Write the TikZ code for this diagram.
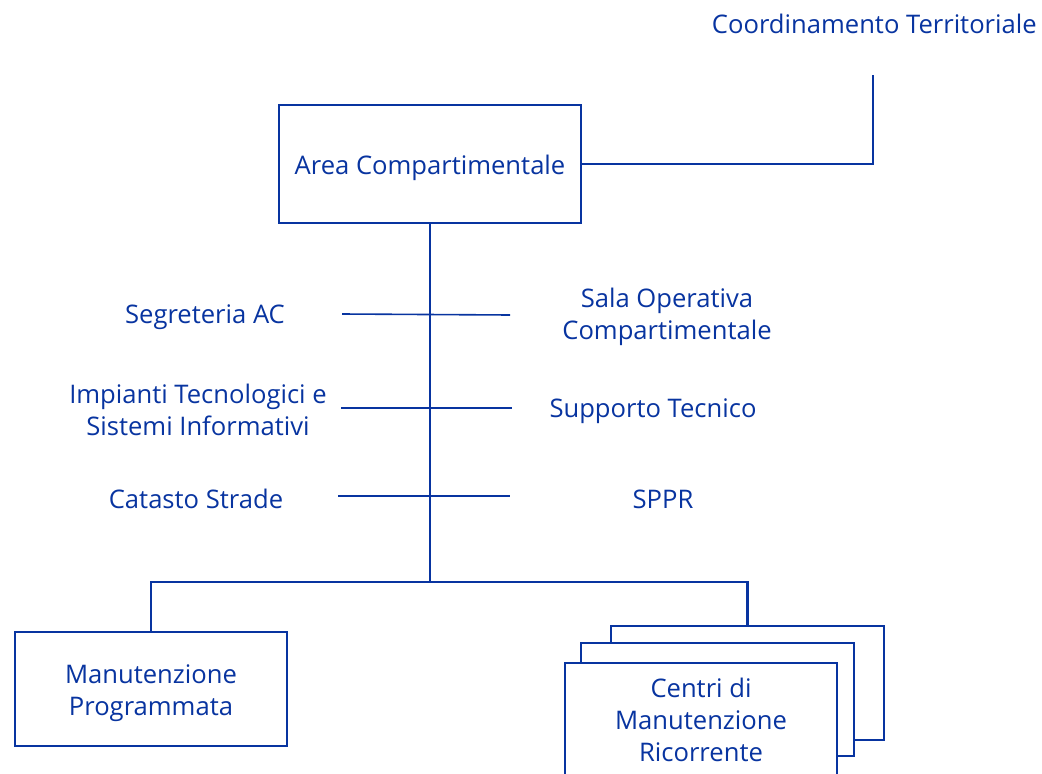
\documentclass[tikz,border=0pt]{standalone}
\usepackage{fontspec}
\setmainfont{Open Sans}
\definecolor{navy}{RGB}{8,52,160}
\begin{document}
\begin{tikzpicture}[x=0.75pt,y=-0.75pt,
  every node/.style={text=navy,font=\fontsize{19.2}{24}\selectfont},
  lbl/.style={align=center,inner sep=0pt},
  orgbox/.style={draw=navy,line width=2.1pt,fill=white,align=center,inner sep=0pt},
  link/.style={draw=navy,line width=1.6pt},
  thin/.style={draw=navy,line width=1.2pt}]
\useasboundingbox (0,0) rectangle (1042,774);
% top
\node[lbl,anchor=east] (ct) at (1037,24) {Coordinamento Territoriale};
\coordinate (ctend) at (873,75);
\node[orgbox,minimum width=226.5pt,minimum height=88.5pt] (area) at (430,164) {\raisebox{-3pt}[\height][\depth]{Area Compartimentale}};
\draw[link] (area.east) -| (ctend);
% spine
\coordinate (hub) at (430,582);
\draw[link] (area.south) -- (hub);
% side branches
\coordinate (l1) at (342,314); \coordinate (r1) at (510,315);
\coordinate (l2) at (341,408); \coordinate (r2) at (512,408);
\coordinate (l3) at (338,496); \coordinate (r3) at (510,496);
\draw[thin] (l1) -- (r1);
\draw[thin] (l2) -- (r2);
\draw[thin] (l3) -- (r3);
\node[lbl] (seg) at (205,317) {Segreteria AC};
\node[lbl] (imp) at (198,410) {Impianti Tecnologici e\\Sistemi Informativi};
\node[lbl] (cat) at (196,499) {Catasto Strade};
\node[lbl] (sala) at (667,317) {Sala Operativa\\Compartimentale};
\node[lbl] (sup) at (653,411) {Supporto Tecnico};
\node[lbl] (sppr) at (663,499) {SPPR};
% bottom
\node[orgbox,minimum width=204pt,minimum height=85.5pt] (mp) at (151,689) {\raisebox{-3pt}[\height][\depth]{\begin{tabular}{@{}c@{}}Manutenzione\\Programmata\end{tabular}}};
\node[orgbox,minimum width=204.75pt,minimum height=85.5pt] (back) at (747.5,683) {};
\node[orgbox,minimum width=204.75pt,minimum height=84.75pt] (mid) at (717.5,699.5) {};
\node[orgbox,minimum width=204pt,minimum height=85.5pt] (front) at (701,720) {Centri di\\Manutenzione\\Ricorrente};
\draw[link] (hub) -| (mp.north);
\draw[link] (hub) -| (back.north);
\end{tikzpicture}
\end{document}
